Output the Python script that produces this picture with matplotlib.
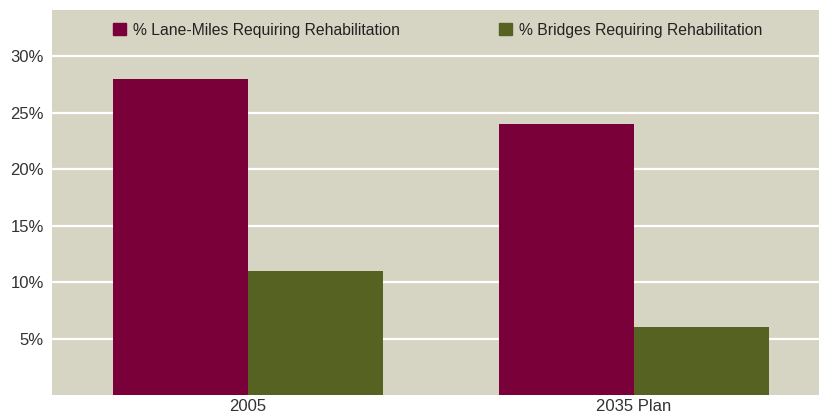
import matplotlib
matplotlib.use("Agg")
import matplotlib.pyplot as plt
import matplotlib.patches as mpatches
import numpy as np

# Rehabilitation needs, percent of network
groups = ["2005", "2035 Plan"]
lane_miles = [28, 24]
bridges = [11, 6]
series_labels = ["% Lane-Miles Requiring Rehabilitation", "% Bridges Requiring Rehabilitation"]
colours = ["#7A003A", "#556222"]
yticks = [5, 10, 15, 20, 25, 30]

plt.rcParams["font.family"] = ["Liberation Sans", "DejaVu Sans"]

fig = plt.figure(figsize=(8.2, 4.19), dpi=100)
ax = fig.add_axes([52 / 820, 24 / 419, 768 / 820, 385 / 419])
ax.set_facecolor("#D6D4C3")

x = np.arange(len(groups))
width = 0.35
ax.bar(x - width / 2, lane_miles, width, color=colours[0], zorder=3)
ax.bar(x + width / 2, bridges, width, color=colours[1], zorder=3)

ax.set_xlim(-0.508, 1.482)
ax.set_ylim(0, 34.1)
ax.set_yticks(yticks)
ax.set_yticklabels([f"{v}%" for v in yticks], fontsize=12, color="#333333")
ax.set_xticks(x)
ax.set_xticklabels(groups, fontsize=12, color="#333333")
ax.tick_params(length=0)
ax.tick_params(axis="y", pad=6)
ax.tick_params(axis="x", pad=3)
ax.grid(axis="y", color="white", linewidth=1.6, zorder=1)
for s in ax.spines.values():
    s.set_visible(False)

# one legend entry per series, each starting above its first bar
anchors = [(113 - 52) / 768, (499 - 52) / 768]
legends = []
for i, lab in enumerate(series_labels):
    leg = ax.legend(handles=[mpatches.Patch(color=colours[i], label=lab)],
                    loc="center left", bbox_to_anchor=(anchors[i], 0.948),
                    frameon=False, borderaxespad=0, borderpad=0,
                    handlelength=0.85, handleheight=0.85, handletextpad=0.42,
                    prop={"size": 11.3})
    for t in leg.get_texts():
        t.set_color("#222222")
    legends.append(leg)
for leg in legends[:-1]:
    ax.add_artist(leg)

fig.savefig("out.png", dpi=100)
